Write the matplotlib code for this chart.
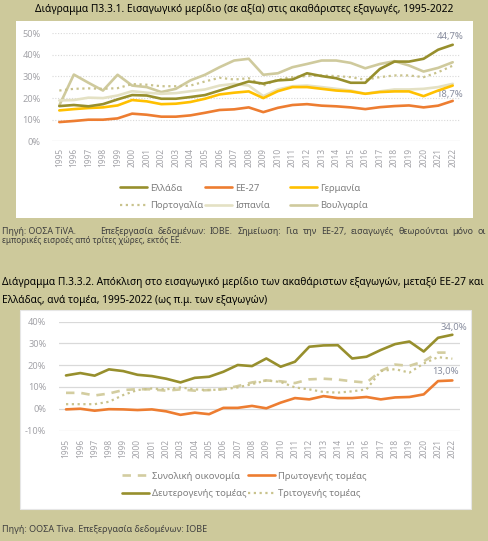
import matplotlib
matplotlib.use("Agg")
import matplotlib.pyplot as plt
from matplotlib.patches import Rectangle

plt.rcParams['font.family'] = ['Noto Sans', 'DejaVu Sans']

years = [str(y) for y in range(1995, 2023)]

# Chart 1 series (%)
greece = [16.3, 16.8, 16.2, 17.2, 19.4, 21.4, 21.2, 19.7, 19.7, 20.5, 21.4, 23.5, 25.6, 27.7,
          26.7, 28.2, 28.6, 31.5, 30.2, 29.2, 27.1, 27.1, 33.5, 36.9, 36.9, 38.2, 42.4, 44.7]
eu27 = [8.9, 9.4, 10.0, 10.0, 10.6, 12.8, 12.3, 11.4, 11.4, 12.0, 13.2, 14.5, 14.8, 15.7,
        13.5, 15.5, 16.8, 17.2, 16.5, 16.2, 15.7, 14.9, 15.8, 16.3, 16.6, 15.7, 16.5, 18.7]
germany = [14.3, 14.9, 15.4, 15.7, 16.6, 19.1, 18.5, 17.2, 17.4, 18.2, 19.7, 21.7, 22.5, 23.1,
           20.0, 23.2, 25.1, 25.1, 24.3, 23.5, 23.1, 22.0, 22.8, 23.1, 23.1, 20.9, 23.5, 25.8]
portugal = [23.5, 24.3, 24.5, 24.3, 24.6, 26.5, 26.2, 25.5, 25.5, 25.8, 27.7, 29.4, 28.6, 29.2,
            25.8, 28.6, 29.7, 30.2, 30.5, 30.2, 29.7, 28.5, 29.7, 30.5, 30.5, 29.7, 32.0, 35.0]
spain = [18.9, 19.1, 20.2, 20.0, 21.2, 23.2, 22.5, 22.0, 22.3, 23.2, 24.0, 25.8, 26.6, 25.8,
         20.9, 24.0, 25.5, 25.8, 25.1, 24.3, 23.5, 22.0, 23.1, 24.0, 24.0, 24.3, 25.1, 26.6]
bulgaria = [16.6, 30.9, 27.1, 23.5, 30.8, 25.8, 25.1, 22.8, 24.3, 28.2, 30.8, 34.3, 37.4, 38.2,
            30.8, 31.5, 34.3, 35.8, 37.4, 37.4, 36.3, 33.8, 35.8, 37.1, 35.1, 32.3, 34.0, 36.6]

# Chart 2 series (percentage points)
total = [7.3, 7.3, 6.1, 7.0, 8.6, 9.0, 8.9, 8.3, 8.9, 8.3, 8.6, 9.0, 10.4, 12.1,
         13.0, 12.6, 11.8, 13.5, 13.8, 13.4, 12.6, 12.0, 17.4, 20.3, 19.7, 21.8, 25.8, 25.8]
primary = [-0.3, 0.0, -0.9, -0.2, -0.3, -0.6, -0.3, -1.2, -2.8, -1.8, -2.5, 0.4, 0.4, 1.3,
           0.2, 2.8, 4.9, 4.3, 5.8, 4.9, 4.9, 5.4, 4.3, 5.2, 5.4, 6.6, 12.7, 13.0]
secondary = [15.3, 16.4, 15.2, 18.1, 17.3, 15.6, 15.0, 13.8, 12.1, 14.2, 14.7, 17.0, 20.1, 19.6,
             23.1, 19.3, 21.6, 28.5, 29.1, 29.2, 23.1, 23.9, 27.0, 29.7, 30.9, 26.3, 32.6, 34.0]
tertiary = [2.1, 2.1, 2.1, 3.2, 6.3, 8.6, 9.3, 8.9, 9.8, 8.9, 8.6, 8.9, 9.8, 11.3,
            13.0, 12.3, 9.8, 8.9, 7.7, 7.4, 8.0, 8.9, 17.3, 18.2, 16.6, 20.8, 23.7, 23.0]

yticks1 = [0, 10, 20, 30, 40, 50]
yticks2 = [-10, 0, 10, 20, 30, 40]

BG = '#CDC99B'
OLIVE = '#978F2D'
ORANGE = '#ED7D31'
GOLD = '#FFC000'
KHAKI_DOT = '#C9C38D'
LIGHT = '#E4E1C4'
BULG = '#CFCA9D'
TICKC = '#A3A3A8'
LEGC = '#7F7F7F'
LABC = '#8A8FA0'
SRC = '#404040'

W, H = 488, 541
fig = plt.figure(figsize=(W / 100, H / 100), dpi=100, facecolor=BG)


def rect(x0, y0, x1, y1):
    return [x0 / W, 1 - y1 / H, (x1 - x0) / W, (y1 - y0) / H]


def fx(x):
    return x / W


def fy(y):
    return 1 - y / H


def justify(text, x0, x1, y, **kw):
    renderer = fig.canvas.get_renderer()
    words = text.split()
    objs = [fig.text(0, fy(y), w, ha='left', va='center', **kw) for w in words]
    widths = [o.get_window_extent(renderer).width for o in objs]
    gap = ((x1 - x0) - sum(widths)) / max(len(words) - 1, 1)
    pos = x0
    for o, w in zip(objs, widths):
        o.set_x(fx(pos))
        pos += w + gap


# white panels
fig.add_artist(Rectangle((fx(16), fy(218)), (473 - 16) / W, (218 - 21) / H,
                         transform=fig.transFigure, facecolor='white', edgecolor='none', zorder=0))
fig.add_artist(Rectangle((fx(20), fy(509)), (471 - 20) / W, (509 - 309.5) / H,
                         transform=fig.transFigure, facecolor='white', edgecolor='#E6E6E6',
                         linewidth=0.8, zorder=0))

x = list(range(len(years)))

# ---------- Chart 1 ----------
ax1 = fig.add_axes(rect(52, 33.3, 460, 141.3))
ax1.set_facecolor('none')
ax1.set_xlim(-0.5, len(years) - 0.5)
ax1.set_ylim(0, 50)
for v in yticks1[1:]:
    ax1.axhline(v, color='#D9D9D9', lw=0.8, ls=(0, (1, 1.5)), zorder=1)
ax1.axhline(0, color='#D9D9D9', lw=0.9, zorder=1)
for s in ax1.spines.values():
    s.set_visible(False)

l_gr, = ax1.plot(x, greece, color=OLIVE, lw=1.9, zorder=6, solid_capstyle='round')
l_eu, = ax1.plot(x, eu27, color=ORANGE, lw=1.9, zorder=5, solid_capstyle='round')
l_de, = ax1.plot(x, germany, color=GOLD, lw=1.9, zorder=4, solid_capstyle='round')
l_pt, = ax1.plot(x, portugal, color=KHAKI_DOT, lw=1.6, ls=(0, (1, 1.6)), zorder=3)
l_es, = ax1.plot(x, spain, color=LIGHT, lw=1.9, zorder=3, solid_capstyle='round')
l_bg, = ax1.plot(x, bulgaria, color=BULG, lw=1.9, zorder=2, solid_capstyle='round')

ax1.set_yticks(yticks1)
ax1.set_yticklabels([f"{v}%" for v in yticks1], fontsize=6.6, color=TICKC)
ax1.set_xticks(x)
ax1.set_xticklabels(years, rotation=90, fontsize=6.0, color=TICKC)
ax1.tick_params(length=0, pad=5)
ax1.tick_params(axis='y', pad=8)

ax1.annotate("44,7%", (x[-1], greece[-1]), xytext=(-3, 8), textcoords='offset pixels',
             ha='center', va='center', fontsize=6.8, color=LABC)
ax1.annotate("18,7%", (x[-1], eu27[-1]), xytext=(-3, 6), textcoords='offset pixels',
             ha='center', va='center', fontsize=6.8, color=LABC)

leg_kw = dict(frameon=False, fontsize=6.8, labelcolor=LEGC, loc='center left',
              borderpad=0, borderaxespad=0, handlelength=2.9, handletextpad=0.3,
              labelspacing=0.95)
cols1 = [(120, [l_gr, l_pt], ["Ελλάδα", "Πορτογαλία"]),
         (205, [l_eu, l_es], ["ΕΕ-27", "Ισπανία"]),
         (290, [l_de, l_bg], ["Γερμανία", "Βουλγαρία"])]
for xx, hs, ls in cols1:
    fig.legend(hs, ls, bbox_to_anchor=(fx(xx), fy(197)), **leg_kw)

fig.text(fx(244), fy(9.5), "Διάγραμμα Π3.3.1. Εισαγωγικό μερίδιο (σε αξία) στις ακαθάριστες εξαγωγές, 1995-2022",
         ha='center', va='center', fontsize=7.35, fontweight='bold', color='black')

fig.text(fx(2), fy(231), "Πηγή: ΟΟΣΑ TiVA.", ha='left', va='center', fontsize=6.4, color=SRC)
justify("Επεξεργασία δεδομένων: ΙΟΒΕ. Σημείωση: Για την ΕΕ-27, εισαγωγές θεωρούνται μόνο οι",
        100, 486, 231, fontsize=6.4, color=SRC)
fig.text(fx(2), fy(240), "εμπορικές εισροές από τρίτες χώρες, εκτός ΕΕ.", ha='left', va='center',
         fontsize=5.9, color=SRC)

# ---------- Chart 2 ----------
fig.text(fx(2), fy(283), "Διάγραμμα Π.3.3.2. Απόκλιση στο εισαγωγικό μερίδιο των ακαθάριστων εξαγωγών, μεταξύ ΕΕ-27 και",
         ha='left', va='center', fontsize=7.35, fontweight='bold', color='black')
fig.text(fx(2), fy(300), "Ελλάδας, ανά τομέα, 1995-2022 (ως π.μ. των εξαγωγών)",
         ha='left', va='center', fontsize=7.35, fontweight='bold', color='black')

ax2 = fig.add_axes(rect(58.85, 321.7, 459.5, 430.5))
ax2.set_facecolor('none')
ax2.set_xlim(-0.5, len(years) - 0.5)
ax2.set_ylim(-10, 40)
for v in yticks2:
    ax2.axhline(v, color='#D9D9D9', lw=0.9, zorder=1)
for s in ax2.spines.values():
    s.set_visible(False)

m_tot, = ax2.plot(x, total, color='#D3CDA0', lw=1.9, ls=(0, (3.2, 2.6)), zorder=3)
m_pri, = ax2.plot(x, primary, color=ORANGE, lw=1.9, zorder=5, solid_capstyle='round')
m_sec, = ax2.plot(x, secondary, color=OLIVE, lw=1.9, zorder=6, solid_capstyle='round')
m_ter, = ax2.plot(x, tertiary, color=KHAKI_DOT, lw=1.6, ls=(0, (1, 1.6)), zorder=4)

ax2.set_yticks(yticks2)
ax2.set_yticklabels([f"{v}%" for v in yticks2], fontsize=6.6, color=TICKC)
ax2.set_xticks(x)
ax2.set_xticklabels(years, rotation=90, fontsize=6.0, color=TICKC)
ax2.tick_params(length=0, pad=6)
ax2.tick_params(axis='y', pad=9)

ax2.annotate("34,0%", (x[-1], secondary[-1]), xytext=(2, 7), textcoords='offset pixels',
             ha='center', va='center', fontsize=6.8, color=LABC)
ax2.annotate("13,0%", (x[-1], primary[-1]), xytext=(-7, 9), textcoords='offset pixels',
             ha='center', va='center', fontsize=6.8, color=LABC)

cols2 = [(122, [m_tot, m_sec], ["Συνολική οικονομία", "Δευτερογενής τομέας"]),
         (248, [m_pri, m_ter], ["Πρωτογενής τομέας", "Τριτογενής τομέας"])]
for xx, hs, ls in cols2:
    fig.legend(hs, ls, bbox_to_anchor=(fx(xx), fy(485)), **leg_kw)

fig.text(fx(2), fy(529), "Πηγή: ΟΟΣΑ Tiva. Επεξεργασία δεδομένων: ΙΟΒΕ", ha='left', va='center',
         fontsize=6.5, color=SRC)

fig.savefig("out.png", dpi=100, facecolor=BG)
